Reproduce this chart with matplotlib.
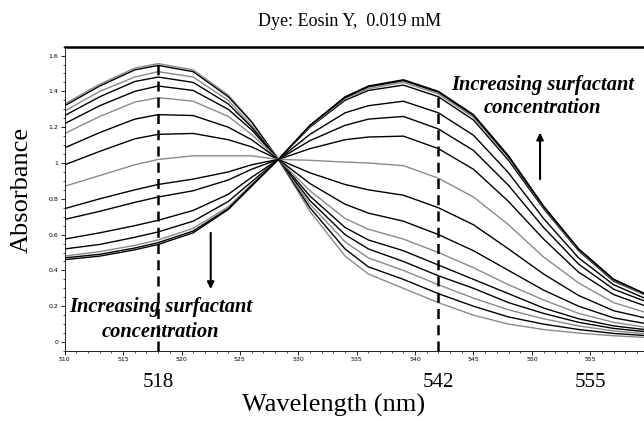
import matplotlib
matplotlib.use('Agg')
import matplotlib.pyplot as plt
from matplotlib.ticker import MultipleLocator, FuncFormatter

wavelength = [510, 513, 516, 518, 521, 524, 526, 528.3, 531, 534, 536, 539,
              542, 545, 548, 551, 554, 557, 560]

# absorbance spectra, from no surfactant (abs_01) to highest surfactant (abs_16)
abs_01 = [1.33, 1.44, 1.53, 1.555, 1.52, 1.38, 1.23, 1.02, 0.73, 0.48, 0.38, 0.30, 0.22, 0.15, 0.10, 0.07, 0.05, 0.035, 0.025]
abs_02 = [1.32, 1.43, 1.52, 1.545, 1.51, 1.37, 1.23, 1.02, 0.75, 0.52, 0.42, 0.35, 0.27, 0.20, 0.14, 0.10, 0.07, 0.048, 0.035]
abs_03 = [1.29, 1.40, 1.48, 1.51, 1.48, 1.35, 1.21, 1.02, 0.77, 0.56, 0.47, 0.40, 0.32, 0.245, 0.18, 0.13, 0.09, 0.062, 0.045]
abs_04 = [1.265, 1.37, 1.455, 1.48, 1.45, 1.33, 1.20, 1.02, 0.79, 0.60, 0.52, 0.45, 0.37, 0.30, 0.22, 0.16, 0.11, 0.076, 0.056]
abs_05 = [1.22, 1.32, 1.40, 1.43, 1.405, 1.30, 1.185, 1.02, 0.815, 0.64, 0.57, 0.51, 0.43, 0.35, 0.27, 0.19, 0.13, 0.09, 0.067]
abs_06 = [1.165, 1.26, 1.34, 1.365, 1.345, 1.26, 1.16, 1.02, 0.845, 0.69, 0.63, 0.575, 0.50, 0.415, 0.32, 0.235, 0.16, 0.11, 0.08]
abs_07 = [1.085, 1.17, 1.245, 1.27, 1.265, 1.20, 1.13, 1.02, 0.885, 0.77, 0.72, 0.675, 0.60, 0.51, 0.40, 0.29, 0.20, 0.135, 0.10]
abs_08 = [0.99, 1.065, 1.135, 1.16, 1.165, 1.13, 1.09, 1.02, 0.945, 0.88, 0.85, 0.82, 0.75, 0.655, 0.52, 0.38, 0.26, 0.175, 0.13]
abs_09 = [0.87, 0.93, 0.99, 1.02, 1.04, 1.04, 1.04, 1.02, 1.015, 1.005, 1.0, 0.985, 0.915, 0.81, 0.655, 0.475, 0.33, 0.22, 0.16]
abs_10 = [0.745, 0.80, 0.85, 0.88, 0.91, 0.95, 0.99, 1.02, 1.08, 1.13, 1.145, 1.15, 1.08, 0.965, 0.785, 0.575, 0.39, 0.265, 0.195]
abs_11 = [0.685, 0.73, 0.78, 0.81, 0.845, 0.905, 0.965, 1.02, 1.125, 1.21, 1.245, 1.26, 1.19, 1.07, 0.875, 0.64, 0.435, 0.295, 0.22]
abs_12 = [0.575, 0.61, 0.65, 0.68, 0.735, 0.825, 0.92, 1.02, 1.16, 1.28, 1.32, 1.345, 1.28, 1.155, 0.945, 0.69, 0.47, 0.32, 0.235]
abs_13 = [0.52, 0.545, 0.585, 0.615, 0.675, 0.785, 0.895, 1.02, 1.20, 1.35, 1.405, 1.435, 1.37, 1.24, 1.015, 0.745, 0.51, 0.34, 0.255]
abs_14 = [0.48, 0.505, 0.54, 0.57, 0.635, 0.755, 0.88, 1.02, 1.205, 1.36, 1.415, 1.45, 1.385, 1.255, 1.03, 0.75, 0.515, 0.345, 0.255]
abs_15 = [0.47, 0.49, 0.525, 0.555, 0.62, 0.745, 0.875, 1.02, 1.21, 1.365, 1.425, 1.46, 1.395, 1.265, 1.035, 0.755, 0.52, 0.35, 0.26]
abs_16 = [0.46, 0.48, 0.515, 0.545, 0.61, 0.74, 0.87, 1.02, 1.21, 1.37, 1.43, 1.465, 1.40, 1.27, 1.04, 0.76, 0.52, 0.35, 0.26]

spectra = [abs_01, abs_02, abs_03, abs_04, abs_05, abs_06, abs_07, abs_08,
           abs_09, abs_10, abs_11, abs_12, abs_13, abs_14, abs_15, abs_16]
gray_ones = [0, 2, 5, 8, 13]

# marked wavelengths
marked = [518, 542, 555]

serif = 'Liberation Serif'

fig = plt.figure(figsize=(6.44, 4.21), dpi=100)
ax = fig.add_axes([0.1005, 0.1663, 0.8995, 0.723])

for i, s in enumerate(spectra):
    col = '#8a8a8a' if i in gray_ones else 'black'
    ax.plot(wavelength, s, color=col, lw=1.0)

# dashed guide lines at the two maxima
ax.vlines(518, -0.05, abs_01[wavelength.index(518)], colors='black',
          linestyles=(0, (4, 2.5)), lw=1.8)
ax.vlines(542, -0.05, abs_16[wavelength.index(542)], colors='black',
          linestyles=(0, (4, 2.5)), lw=1.8)

ax.set_xlim(510, 559.6)
ax.set_ylim(-0.05, 1.65)

# axes frame: thick top, no right
ax.spines['right'].set_visible(False)
ax.spines['top'].set_linewidth(1.8)
ax.spines['left'].set_linewidth(0.6)
ax.spines['bottom'].set_linewidth(0.6)

ax.xaxis.set_major_locator(MultipleLocator(5))
ax.xaxis.set_minor_locator(MultipleLocator(1))
ax.yaxis.set_major_locator(MultipleLocator(0.2))
ax.yaxis.set_minor_locator(MultipleLocator(0.05))
ax.yaxis.set_major_formatter(FuncFormatter(lambda v, p: '%g' % round(v, 2)))
ax.tick_params(which='major', length=3, width=0.6, labelsize=4.5, pad=1.5)
ax.tick_params(which='minor', length=1.5, width=0.5)
ax.tick_params(top=False, right=False)

# big wavelength labels under the axis
for m in marked:
    ax.text(m, -0.102, str(m), transform=ax.get_xaxis_transform(),
            ha='center', va='center', fontsize=15, family=serif)

fig.text(0.518, 0.038, 'Wavelength (nm)', ha='center', va='center',
         fontsize=19, family=serif)
fig.text(0.034, 0.55, 'Absorbance', ha='center', va='center', rotation=90,
         fontsize=19, family=serif)
fig.text(0.543, 0.948, 'Dye: Eosin Y,  0.019 mM', ha='center', va='center',
         fontsize=13, family=serif)

# annotations
ax.text(518.2, 0.195, 'Increasing surfactant', ha='center', va='center',
        fontsize=14.8, family=serif, style='italic', weight='bold')
ax.text(518.2, 0.058, 'concentration', ha='center', va='center',
        fontsize=14.8, family=serif, style='italic', weight='bold')
ax.text(550.9, 1.436, 'Increasing surfactant', ha='center', va='center',
        fontsize=14.8, family=serif, style='italic', weight='bold')
ax.text(550.9, 1.306, 'concentration', ha='center', va='center',
        fontsize=14.8, family=serif, style='italic', weight='bold')

ax.annotate('', xy=(522.5, 0.28), xytext=(522.5, 0.625),
            arrowprops=dict(arrowstyle='-|>', color='black', lw=1.5, mutation_scale=10))
ax.annotate('', xy=(550.7, 1.185), xytext=(550.7, 0.895),
            arrowprops=dict(arrowstyle='-|>', color='black', lw=1.5, mutation_scale=10))

fig.savefig('out.png', dpi=100)
